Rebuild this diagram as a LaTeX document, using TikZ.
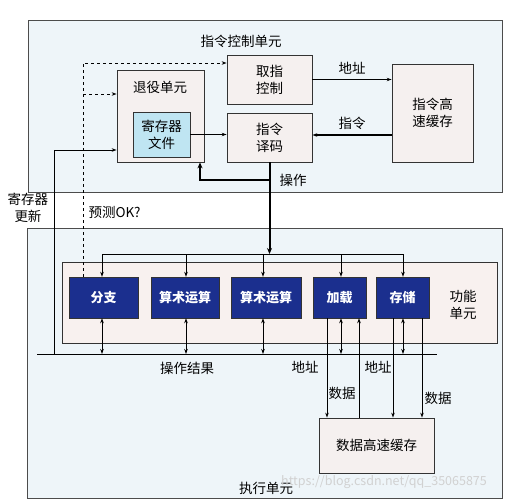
\documentclass[tikz,border=0pt]{standalone}
\usepackage{fontspec}
\setmainfont{Noto Sans CJK SC}
\usetikzlibrary{arrows.meta}
\definecolor{unitbg}{HTML}{EEF5F9}
\definecolor{boxbg}{HTML}{F5F0EF}
\definecolor{fubg}{HTML}{F8F1EF}
\definecolor{fublue}{HTML}{1B2F8E}
\definecolor{regbg}{HTML}{BFE5F2}
\tikzset{
  outerbox/.style={draw=black!70, fill=unitbg, line width=0.8pt},
  block/.style={draw=black!80, fill=boxbg, line width=0.8pt, align=center},
  fubox/.style={draw=black!80, fill=fublue, text=white, font=\bfseries\fontsize{13}{15}\selectfont, minimum height=41, inner sep=0pt},
  lbl/.style={font=\fontsize{13.5}{17}\selectfont, align=center},
  conn/.style={line width=0.8pt, -{Stealth[length=5pt,width=3.5pt]}},
  bicon/.style={line width=0.8pt, {Stealth[length=5pt,width=3.5pt]}-{Stealth[length=5pt,width=3.5pt]}},
  bold conn/.style={line width=2pt, -{Stealth[length=6pt,width=5pt]}},
}
\begin{document}
\begin{tikzpicture}[x=1pt,y=-1pt]
  \useasboundingbox (0,0) rectangle (515,501);
  \fill[white] (0,0) rectangle (515,501);

  % outer units
  \node[outerbox, minimum width=474, minimum height=172] (icu) at (265,106) {};
  \node[outerbox, minimum width=475, minimum height=270] (eu) at (264.5,363) {};
  \node[lbl] (icutext) at (241,41) {指令控制单元};
  \node[lbl] (eutext) at (266,488) {执行单元};

  % instruction control blocks
  \node[block, minimum width=87, minimum height=92] (retire) at (160.5,116) {};
  \node[lbl] (retiretext) at (160,87) {退役单元};
  \node[block, fill=regbg, minimum width=57, minimum height=45, lbl] (regfile) at (161.5,134.5) {寄存器\\文件};
  \node[block, minimum width=85, minimum height=49, lbl] (fetch) at (269.5,79.5) {取指\\控制};
  \node[block, minimum width=85, minimum height=49, lbl] (decode) at (269.5,137.5) {指令\\译码};
  \node[block, minimum width=81, minimum height=98, lbl] (icache) at (432.5,113) {指令高\\速缓存};

  % functional units
  \node[block, fill=fubg, minimum width=435, minimum height=81] (fu) at (279.5,302.5) {};
  \node[lbl] (futext) at (463,305) {功能\\单元};
  \node[fubox, minimum width=69] (branch) at (103.5,297.5) {分支};
  \node[fubox, minimum width=68] (alua) at (185,297.5) {算术运算};
  \node[fubox, minimum width=70] (alub) at (266,297.5) {算术运算};
  \node[fubox, minimum width=53] (load) at (339.5,297.5) {加载};
  \node[fubox, minimum width=53] (store) at (402.5,297.5) {存储};
  \node[block, minimum width=115, minimum height=55, lbl] (dcache) at (376.5,445.5) {数据高速缓存};

  % buses
  \coordinate (busL) at (102,254);
  \coordinate (busR) at (403,254);
  \coordinate (resL) at (37,354);
  \coordinate (resR) at (437,354);
  \draw[line width=0.8pt] (busL) -- (busR);
  \draw[line width=0.8pt] (resL) -- (resR);
  \foreach \u/\dx in {branch/-1.5,alua/1,alub/-3,load/1.5,store/0.5} {
    \draw[conn] ([xshift=\dx]\u.north |- busL) -- ([xshift=\dx]\u.north);
    \draw[bicon] ([xshift=\dx]\u.south) -- ([xshift=\dx]\u.south |- resL);
  }

  % instruction control connectors
  \draw[conn, line width=1.2pt] (fetch.east) -- (fetch.east -| icache.west) node[lbl, midway, above=1pt] {地址};
  \draw[conn, line width=1.2pt] (icache.west |- 0,135) -- (decode.east |- 0,135) node[lbl, midway, above=1pt] {指令};
  \draw[conn] (regfile.east) -- (regfile.east -| decode.west);
  \draw[bold conn] (decode.south) -- (decode.south |- busL);
  \draw[bold conn] (decode.south |- 0,180) -| ([xshift=39.5]retire.south);
  \node[lbl] (optext) at (293,180) {操作};

  % prediction and register update
  \draw[conn, dashed] ([xshift=-20.5]branch.north) |- (fetch.west |- 0,63);
  \draw[conn, dashed] ([xshift=-20.5]branch.north |- 0,94) -- (retire.west |- 0,94);
  \node[lbl, anchor=west] (predtext) at (85,212) {预测OK?};
  \coordinate (upd) at (54,354);
  \draw[conn] (upd) |- (retire.west |- 0,150);
  \node[lbl] (updtext) at (28,208) {寄存器\\更新};
  \node[lbl] (restext) at (187,368) {操作结果};

  % data cache connectors
  \draw[conn] ([xshift=-12.5]load.south) -- ([xshift=-12.5]load.south |- dcache.north);
  \draw[conn] ([xshift=19.5]load.south |- dcache.north) -- ([xshift=19.5]load.south);
  \draw[conn] ([xshift=-9.5]store.south) -- ([xshift=-9.5]store.south |- dcache.north);
  \draw[conn] ([xshift=19.5]store.south) -- ([xshift=19.5]store.south |- dcache.north);
  \node[lbl] (addra) at (305,367) {地址};
  \node[lbl] (dataa) at (342,393) {数据};
  \node[lbl] (addrb) at (378,367) {地址};
  \node[lbl] (datab) at (438,398) {数据};

  \node[font=\fontsize{12.5}{14}\selectfont, text=black!18] (mark) at (384,482) {https://blog.csdn.net/qq\_35065875};
\end{tikzpicture}
\end{document}
